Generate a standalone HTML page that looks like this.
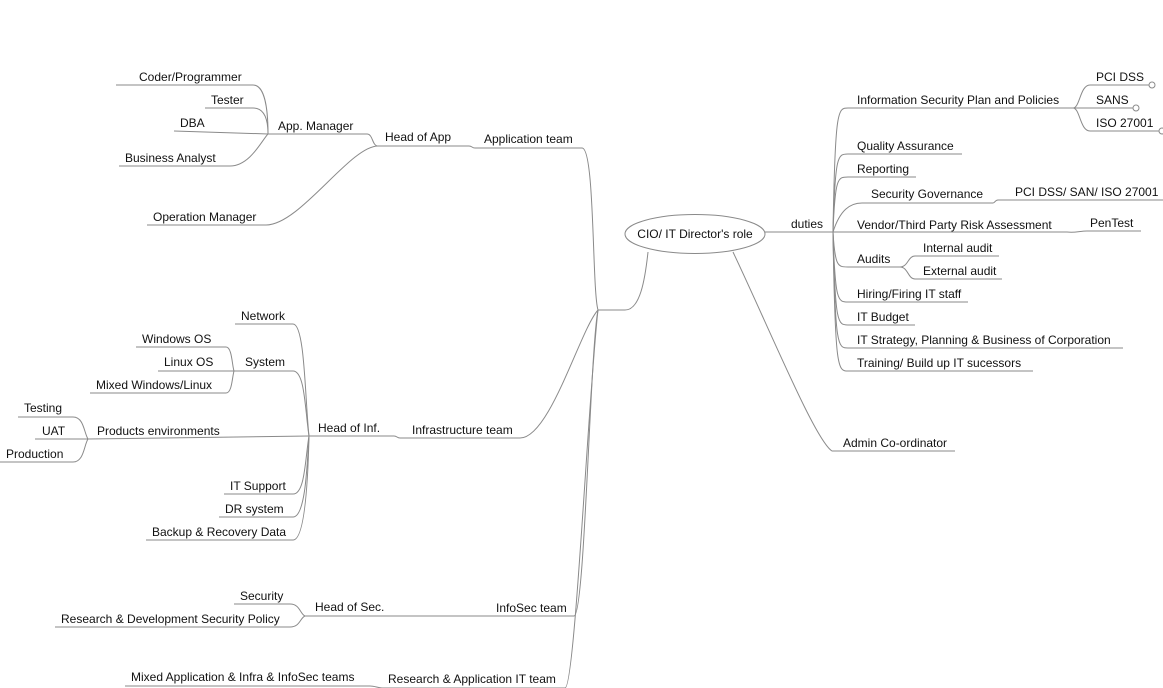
<!DOCTYPE html>
<html><head><meta charset="utf-8"><style>
html,body{margin:0;padding:0;background:#fff;}
svg{display:block;}
text{font-family:"Liberation Sans",Arial,sans-serif;font-size:12px;fill:#111;}
path,line{fill:none;stroke:#8a8a8a;stroke-width:1;}
circle{fill:#fff;stroke:#8a8a8a;stroke-width:1;}
</style></head><body>
<svg width="1163" height="688" viewBox="0 0 1163 688" xmlns="http://www.w3.org/2000/svg">
<!-- App group -->
<path d="M116,85 H253 C265,85 268,110 268,134"/>
<path d="M205,108 H253 C265,108 268,121 268,134"/>
<path d="M174,131 L268,134"/>
<path d="M119,166 H230 C250,166 262,140 268,134"/>
<path d="M268,134 H367 C373,134 372,146 378,146"/>
<path d="M147,225 H266 C300,225 350,146 378,146"/>
<path d="M378,146 H469 C472,146 472,148 475,148 H582 C595,148 592,290 598,310"/>
<!-- Infra group -->
<path d="M235,324 H293 C305,324 305,400 309,436"/>
<path d="M136,347 H226 C232,347 232,365 234,371"/>
<path d="M158,371 H234"/>
<path d="M90,393 H226 C232,393 232,378 234,371"/>
<path d="M234,371 H293 C305,371 305,410 309,436"/>
<path d="M18,417 H73 C84,417 84,433 88,439"/>
<path d="M35,439 H88"/>
<path d="M0,462 H73 C84,462 84,445 88,439"/>
<path d="M88,439 L309,436"/>
<path d="M224,494 H293 C305,494 305,460 309,436"/>
<path d="M219,517 H293 C305,517 307,470 309,436"/>
<path d="M146,540 H293 C305,540 308,480 309,436"/>
<path d="M309,436 H394 C397,436 397,438 400,438 H520 C550,438 580,330 598,310"/>
<!-- Sec group -->
<path d="M234,604 H290 C300,604 300,614 305,616"/>
<path d="M55,627 H290 C300,627 300,618 305,616"/>
<path d="M305,616 H574 C585,616 590,350 598,310"/>
<path d="M125,686 H370 C375,686 378,688 383,688 H565 C575,688 588,400 598,310"/>
<!-- CIO -->
<path d="M598,310 H625 C640,310 645,280 648,252"/>
<ellipse cx="695" cy="234" rx="70" ry="19.5" fill="#fff" stroke="#8a8a8a"/>
<path d="M765,232 H833"/>
<!-- Right -->
<path d="M833,232 C835,108 838,108 848,108 H1073"/>
<path d="M1073,108 C1080,108 1080,85 1090,85 H1149"/>
<path d="M1073,108 H1133"/>
<path d="M1073,108 C1080,108 1080,131 1090,131 H1159"/>
<circle cx="1152" cy="85" r="3"/>
<circle cx="1136" cy="108" r="3"/>
<circle cx="1162" cy="131" r="3"/>
<path d="M833,232 C835,154 838,154 848,154 H962"/>
<path d="M833,232 C835,177 838,177 848,177 H916"/>
<path d="M833,232 C840,210 850,203 862,203 H993 C995,203 995,200 998,200 H1163"/>
<path d="M833,232 H1067 C1075,233 1080,231 1087,231 H1141"/>
<path d="M833,232 C835,267 838,267 848,267 H900"/>
<path d="M900,267 C908,267 908,256 915,256 H999"/>
<path d="M900,267 C908,267 908,279 915,279 H1002"/>
<path d="M833,232 C835,302 838,302 848,302 H968"/>
<path d="M833,232 C835,325 838,325 848,325 H915"/>
<path d="M833,232 C835,348 838,348 848,348 H1123"/>
<path d="M833,232 C835,371 838,371 848,371 H1033"/>
<path d="M733,252 C770,330 815,440 832,451 H955"/>
<!-- Texts left -->
<text x="139" y="81">Coder/Programmer</text>
<text x="211" y="104">Tester</text>
<text x="180" y="127">DBA</text>
<text x="125" y="162">Business Analyst</text>
<text x="278" y="130">App. Manager</text>
<text x="153" y="221">Operation Manager</text>
<text x="385" y="141">Head of App</text>
<text x="484" y="143">Application team</text>
<text x="241" y="320">Network</text>
<text x="142" y="343">Windows OS</text>
<text x="164" y="366">Linux OS</text>
<text x="96" y="389">Mixed Windows/Linux</text>
<text x="245" y="366">System</text>
<text x="24" y="412">Testing</text>
<text x="42" y="435">UAT</text>
<text x="6" y="458">Production</text>
<text x="97" y="435">Products environments</text>
<text x="318" y="432">Head of Inf.</text>
<text x="412" y="434">Infrastructure team</text>
<text x="230" y="490">IT Support</text>
<text x="225" y="513">DR system</text>
<text x="152" y="536">Backup &amp; Recovery Data</text>
<text x="240" y="600">Security</text>
<text x="61" y="623">Research &amp; Development Security Policy</text>
<text x="315" y="611">Head of Sec.</text>
<text x="496" y="612">InfoSec team</text>
<text x="131" y="681">Mixed Application &amp; Infra &amp; InfoSec teams</text>
<text x="388" y="683">Research &amp; Application IT team</text>
<!-- Texts right -->
<text x="695" y="238" text-anchor="middle">CIO/ IT Director's role</text>
<text x="791" y="228">duties</text>
<text x="857" y="104">Information Security Plan and Policies</text>
<text x="1096" y="81">PCI DSS</text>
<text x="1096" y="104">SANS</text>
<text x="1096" y="127">ISO 27001</text>
<text x="857" y="150">Quality Assurance</text>
<text x="857" y="173">Reporting</text>
<text x="871" y="198">Security Governance</text>
<text x="1015" y="196">PCI DSS/ SAN/ ISO 27001</text>
<text x="857" y="229">Vendor/Third Party Risk Assessment</text>
<text x="1090" y="227">PenTest</text>
<text x="857" y="263">Audits</text>
<text x="923" y="252">Internal audit</text>
<text x="923" y="275">External audit</text>
<text x="857" y="298">Hiring/Firing IT staff</text>
<text x="857" y="321">IT Budget</text>
<text x="857" y="344">IT Strategy, Planning &amp; Business of Corporation</text>
<text x="857" y="367">Training/ Build up IT sucessors</text>
<text x="843" y="447">Admin Co-ordinator</text>
</svg>
</body></html>
